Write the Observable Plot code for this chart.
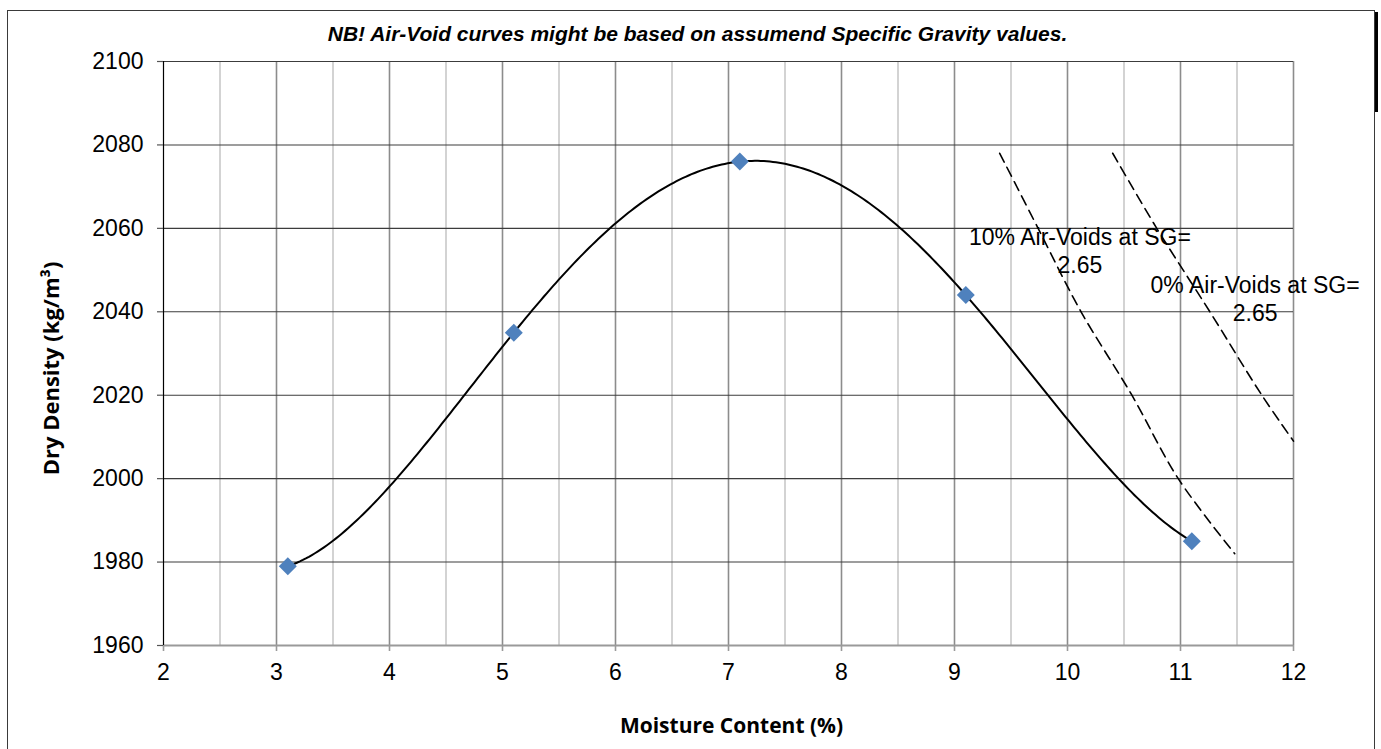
<!DOCTYPE html>
<html>
<head>
<meta charset="utf-8">
<script src="https://cdn.jsdelivr.net/npm/d3@7"></script>
<script src="https://cdn.jsdelivr.net/npm/@observablehq/plot@0.6"></script>
<style>
  html, body { margin: 0; padding: 0; background: #fff; width: 1381px; height: 749px; overflow: hidden; }
  #frame { position: absolute; left: 7px; top: 10px; width: 1366px; height: 800px;
           border-left: 1.5px solid #3a3a3a; border-top: 1.5px solid #3a3a3a; border-right: 1.5px solid #3a3a3a; }
  #bar { position: absolute; left: 1375px; top: 12px; width: 3px; height: 100px; background: #000; }
  #chart { position: absolute; left: 0; top: 0; }
</style>
</head>
<body>
<div id="frame"></div>
<div id="bar"></div>
<div id="chart"></div>
<script>
// ---- data ----
const moisture = [3.1, 5.1, 7.1, 9.1, 11.1];
const density  = [1979, 2035, 2076, 2044, 1985];

const av10Moisture = [9.40, 9.74, 10.12, 10.57, 10.98, 11.48];
const av10Density  = [2078, 2060, 2040, 2020, 2000, 1982];
const av0Moisture  = [10.40, 10.79, 11.26, 11.72, 12.0];
const av0Density   = [2078, 2060, 2040, 2020, 2009];

const labelText = ["10% Air-Voids at SG=\n2.65", "0% Air-Voids at SG=\n2.65"];
const labelX    = [10.11, 11.66];
const labelY    = [2054.9, 2043.2];

const xTicks = [2, 3, 4, 5, 6, 7, 8, 9, 10, 11, 12];
const xMinor = [2.5, 3.5, 4.5, 5.5, 6.5, 7.5, 8.5, 9.5, 10.5, 11.5];
const yTicks = [1960, 1980, 2000, 2020, 2040, 2060, 2080, 2100];

const titleText = "NB! Air-Void curves might be based on assumend Specific Gravity values.";
const xTitle = "Moisture Content (%)";
const yTitle = "Dry Density (kg/m³)";

// ---- tables built from the arrays ----
const points = moisture.map((m, i) => ({m, d: density[i]}));
const av10 = av10Moisture.map((m, i) => ({m, d: av10Density[i]}));
const av0  = av0Moisture.map((m, i) => ({m, d: av0Density[i]}));
const labels = labelText.map((t, i) => ({t, m: labelX[i], d: labelY[i]}));

// polynomial (trendline-style) curve through all points, as a curve factory
function polyCurve(context) {
  let pts = [];
  return {
    areaStart() {}, areaEnd() {},
    lineStart() { pts = []; },
    point(x, y) { pts.push([+x, +y]); },
    lineEnd() {
      const n = pts.length;
      if (!n) return;
      const x0 = pts[0][0], x1 = pts[n - 1][0];
      const steps = 300;
      for (let s = 0; s <= steps; ++s) {
        const x = x0 + (x1 - x0) * s / steps;
        let y = 0;
        for (let j = 0; j < n; ++j) {
          let l = 1;
          for (let k = 0; k < n; ++k) if (k !== j) l *= (x - pts[k][0]) / (pts[j][0] - pts[k][0]);
          y += l * pts[j][1];
        }
        if (s === 0) context.moveTo(x, y); else context.lineTo(x, y);
      }
    }
  };
}

const font = "'Liberation Sans', Arial, sans-serif";

const chart = Plot.plot({
  width: 1381,
  height: 749,
  marginLeft: 163,
  marginRight: 88,
  marginTop: 61,
  marginBottom: 104,
  style: {background: "transparent", fontFamily: font, color: "#000"},
  x: {domain: [2, 12], axis: null},
  y: {domain: [1960, 2100], axis: null},
  marks: [
    Plot.ruleX(xMinor, {stroke: "#c8c8c8", strokeWidth: 1.6}),
    Plot.ruleX(xTicks.slice(1), {stroke: "#8c8c8c", strokeWidth: 1.6}),
    Plot.ruleY(yTicks.slice(1), {stroke: "#3c3c3c", strokeWidth: 1.1}),
    Plot.ruleY([1960], {stroke: "#9a9a9a", strokeWidth: 2}),
    Plot.ruleX([2], {stroke: "#000", strokeWidth: 1.2}),
    Plot.axisX(xTicks, {tickSize: 6, tickPadding: 12, fontSize: 23, stroke: "#9a9a9a", strokeWidth: 1.6,
      tickFormat: d => String(d), label: null, fontFamily: font}),
    Plot.axisY(yTicks, {tickSize: 6, tickPadding: 14, fontSize: 23, stroke: "#555", strokeWidth: 1.2,
      tickFormat: d => String(d), label: null, fontFamily: font}),
    Plot.line(av10, {x: "m", y: "d", stroke: "#000", strokeWidth: 1.6, strokeDasharray: "10,6", curve: "catmull-rom"}),
    Plot.line(av0, {x: "m", y: "d", stroke: "#000", strokeWidth: 1.6, strokeDasharray: "10,6", curve: "catmull-rom"}),
    Plot.line(points, {x: "m", y: "d", stroke: "#000", strokeWidth: 2, curve: polyCurve}),
    Plot.dot(points, {x: "m", y: "d", symbol: "diamond2", r: 8.1, fill: "#4f81bd", stroke: "none"}),
    Plot.text(labels, {x: "m", y: "d", text: "t", fontSize: 23, lineHeight: 1.22, textAnchor: "middle",
      lineAnchor: "middle", fill: "#000", fontFamily: font}),
    Plot.text([titleText], {text: d => d, frameAnchor: "top", lineAnchor: "middle", dy: -27, dx: -31,
      fontSize: 21, fontWeight: "bold", fontStyle: "italic", fill: "#000", fontFamily: font}),
    Plot.text([xTitle], {text: d => d, frameAnchor: "bottom", textAnchor: "middle", lineAnchor: "middle", dy: 81, dx: 3,
      fontSize: 21, fontWeight: "bold", fill: "#000", fontFamily: "'Open Sans', sans-serif"}),
    Plot.text([yTitle], {text: d => d, frameAnchor: "left", textAnchor: "middle", lineAnchor: "middle", rotate: -90, dx: -112, dy: 15,
      fontSize: 22, fontWeight: "bold", fill: "#000", fontFamily: "'Open Sans', sans-serif"})
  ]
});
document.getElementById("chart").appendChild(chart);
</script>
</body>
</html>
